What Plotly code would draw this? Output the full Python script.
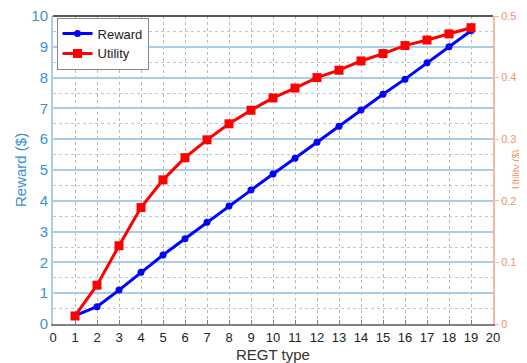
import plotly.graph_objects as go

regt_type = list(range(1, 20))
reward = [0.27, 0.56, 1.10, 1.68, 2.24, 2.77, 3.30, 3.83, 4.35, 4.87, 5.38, 5.90, 6.42, 6.95, 7.46, 7.95, 8.48, 9.00, 9.52]
utility = [0.013, 0.063, 0.127, 0.189, 0.234, 0.270, 0.299, 0.325, 0.347, 0.367, 0.383, 0.400, 0.412, 0.427, 0.439, 0.452, 0.461, 0.471, 0.481]
x_ticks = list(range(0, 21))
reward_ticks = list(range(0, 11))
utility_ticks = [0, 0.1, 0.2, 0.3, 0.4, 0.5]

blue_axis = "#3d8fd1"
orange_axis = "#f0926e"

fig = go.Figure()
fig.add_trace(go.Scatter(x=regt_type, y=reward, name="Reward", mode="lines+markers",
                         line=dict(color="#0000ff", width=3),
                         marker=dict(symbol="circle", size=7, color="#0000ff")))
fig.add_trace(go.Scatter(x=regt_type, y=utility, name="Utility", mode="lines+markers",
                         yaxis="y2",
                         line=dict(color="#ff0000", width=3),
                         marker=dict(symbol="square", size=9, color="#ff0000")))

# page body has an 8px default margin, so the figure is laid out shifted by -8px
fig.update_layout(
    width=527, height=363,
    margin=dict(l=45, r=42, t=8, b=47, autoexpand=False),
    paper_bgcolor="white", plot_bgcolor="white",
    font=dict(family="Liberation Sans, Arial, sans-serif"),
    xaxis=dict(range=[0, 20], tickvals=x_ticks, ticktext=[str(v) for v in x_ticks],
               showgrid=True, gridcolor="#b8b8b8", griddash="dot", gridwidth=1,
               showline=True, linecolor="#808080", linewidth=2, mirror=False,
               ticks="inside", ticklen=4, tickcolor="#808080",
               tickfont=dict(size=13, color="#222222"), ticklabeloverflow="allow",
               automargin=False, zeroline=False),
    yaxis=dict(range=[0, 10], tickvals=reward_ticks,
               showgrid=True, gridcolor="#a9cde9", gridwidth=2,
               minor=dict(dtick=0.5, showgrid=True, gridcolor="#a9cde9", griddash="dot", gridwidth=1),
               showline=True, linecolor="#a9cde9", linewidth=2,
               tickfont=dict(size=15, color=blue_axis), ticklabeloverflow="allow",
               automargin=False, zeroline=False),
    yaxis2=dict(range=[0, 0.5], tickvals=utility_ticks, ticktext=["0", "0.1", "0.2", "0.3", "0.4", "0.5"],
                overlaying="y", side="right", showgrid=False,
                showline=True, linecolor="#f5b9a3", linewidth=2,
                ticks="outside", ticklen=4, tickcolor="#f5b9a3",
                tickfont=dict(size=11, color=orange_axis), ticklabeloverflow="allow",
                automargin=False, zeroline=False),
    legend=dict(x=0.008, y=0.995, xanchor="left", yanchor="top",
                bgcolor="white", bordercolor="#888888", borderwidth=1,
                font=dict(size=13, color="#222222"), tracegroupgap=0, itemwidth=30),
    showlegend=True,
)
fig.add_shape(type="line", xref="paper", yref="paper", x0=0, x1=1, y0=1, y1=1,
              line=dict(color="#222222", width=1.5))
fig.add_annotation(text="REGT type", xref="paper", yref="paper", x=0.5, y=0,
                   xanchor="center", yanchor="top", yshift=-20, showarrow=False,
                   font=dict(size=15, color="#333333"))
fig.add_annotation(text="Reward ($)", xref="paper", yref="paper", x=0, y=0.5,
                   xanchor="center", yanchor="middle", xshift=-33, textangle=-90, showarrow=False,
                   font=dict(size=15, color=blue_axis))
fig.add_annotation(text="Utility ($)", xref="paper", yref="paper", x=1, y=0.5,
                   xanchor="center", yanchor="middle", xshift=23, textangle=-90, showarrow=False,
                   font=dict(size=10, color=orange_axis))

fig.write_html("out.html")
